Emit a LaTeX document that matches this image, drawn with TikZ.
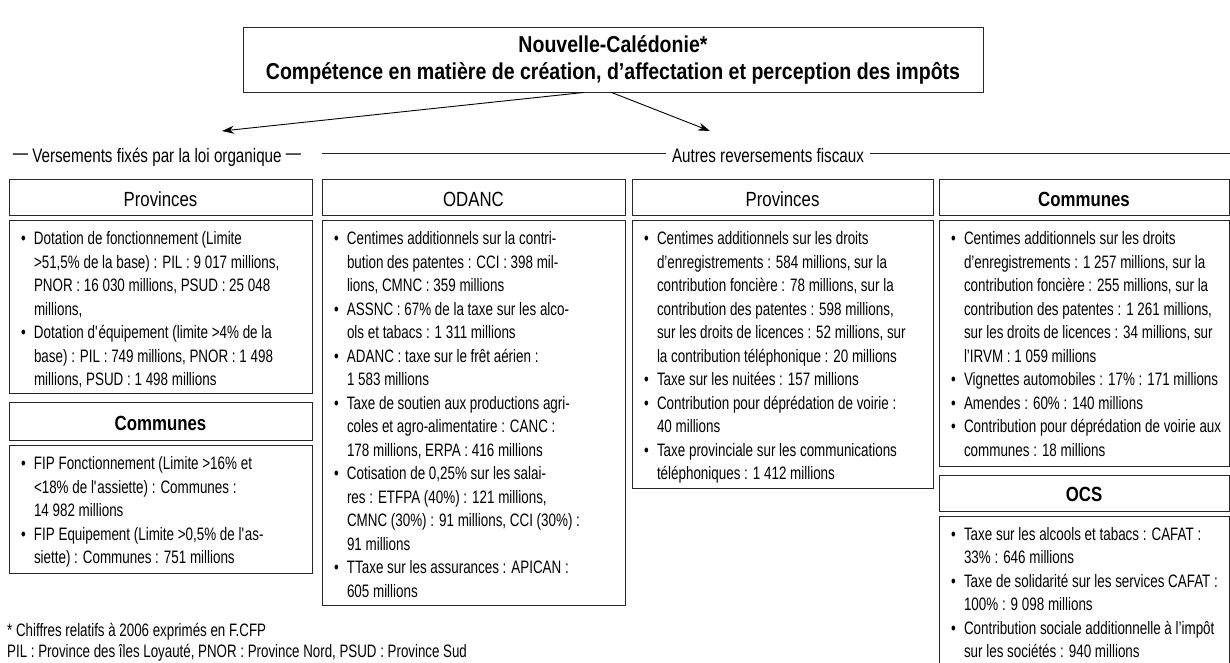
\documentclass[tikz,border=0pt]{standalone}
\usepackage{fontspec}
\setmainfont{Liberation Sans}
\newfontfamily\cfont{Liberation Sans}[FakeStretch=0.745]
\newfontfamily\ffont{Liberation Sans}[FakeStretch=0.74]
\newfontfamily\hfont{Liberation Sans}[FakeStretch=0.82]
\newfontfamily\sfont{Liberation Sans}[FakeStretch=0.78]
\newfontfamily\tfont{Liberation Sans}[FakeStretch=0.85]
\usetikzlibrary{arrows.meta}
\newlength\bw \setlength\bw{13pt}
\newcommand\bu{\makebox[\bw][l]{\textbullet}}
\newcommand\ci{\hspace*{\bw}}
\newcommand\rdash{\raisebox{3pt}{—}}
\colorlet{bord}{black!85}
\tikzset{
  boxc/.style={draw=bord, line width=0.9pt, anchor=north west, inner sep=0pt, outer sep=0pt},
  hdr/.style={draw=bord, line width=0.9pt, inner sep=0pt, outer sep=0pt, minimum height=36pt,
    font=\hfont\fontsize{20.5}{24}\selectfont, text height=17pt, text depth=0pt},
  hdrb/.style={hdr, font=\hfont\bfseries\fontsize{20.5}{24}\selectfont},
  ctext/.style={anchor=north west, align=left, inner sep=0pt, outer sep=0pt,
    font=\cfont\fontsize{18}{23.5}\selectfont},
  septext/.style={anchor=base, inner sep=6pt, font=\sfont\fontsize{19.5}{22}\selectfont},
  arr/.style={-{Stealth[length=12pt,width=8pt]}, line width=0.9pt, draw=black},
  sepline/.style={line width=0.8pt, draw=bord},
}
\begin{document}
\begin{tikzpicture}[x=1pt,y=-1pt]
\useasboundingbox (0,0) rectangle (1230,662);
\fill[white] (0,0) rectangle (1230,662);

% top box
\node[draw=bord, line width=0.9pt, minimum width=740pt, minimum height=65pt, inner sep=0pt,
  align=center, font=\tfont\bfseries\fontsize{23}{27}\selectfont] (nc) at (613,59.5)
  {Nouvelle-Calédonie*\\Compétence en matière de création, d’affectation et perception des impôts};

% arrows
\coordinate (la) at (222,131);
\coordinate (ra) at (710,131);
\draw[arr] ([xshift=-29pt]nc.south) -- (la);
\draw[arr] ([xshift=-1.5pt]nc.south) -- (ra);

% separators
\node[septext] (vers) at (157,162) {\rdash\ Versements fixés par la loi organique \rdash};
\node[septext] (autres) at (768,162) {Autres reversements fiscaux};
\coordinate (s1) at (322,153.5);
\coordinate (s2) at (1230,153.5);
\draw[sepline] (s1) -- (s1 -| autres.west);
\draw[sepline] (s2 -| autres.east) -- (s2);

% headers
\node[hdr, minimum width=303pt] (h1) at (160.5,197.5) {Provinces};
\node[hdr, minimum width=303pt] (h2) at (473.5,197.5) {ODANC};
\node[hdr, minimum width=301pt] (h3) at (782.5,197.5) {Provinces};
\node[hdrb, minimum width=290pt] (h4) at (1084,197.5) {Communes};
\node[hdrb, minimum width=303pt, minimum height=38pt] (h5) at (160.5,421.7) {Communes};
\node[hdrb, minimum width=290pt] (h6) at (1084,493) {OCS};

% content boxes
\node[boxc, minimum width=303pt, minimum height=173pt] (b1) at (9,220.5) {};
\node[boxc, minimum width=303pt, minimum height=128pt] (b5) at (9,445.7) {};
\node[boxc, minimum width=303pt, minimum height=384.5pt] (b2) at (322,220.5) {};
\node[boxc, minimum width=301pt, minimum height=268pt] (b3) at (632,220.5) {};
\node[boxc, minimum width=290pt, minimum height=246pt] (b4) at (939,220.5) {};
\node[boxc, minimum width=290pt, minimum height=160pt] (b6) at (939,516) {};

% content texts
\node[ctext] (t1) at ([xshift=12pt,yshift=-7.55pt]b1.north west) {\strut\bu Dotation de fonctionnement (Limite\\
\ci >51,5\% de la base) : PIL : 9 017 millions,\\
\ci PNOR : 16 030 millions, PSUD : 25 048\\
\ci millions,\\
\bu Dotation d\textquotesingle équipement (limite >4\% de la\\
\ci base) : PIL : 749 millions, PNOR : 1 498\\
\ci millions, PSUD : 1 498 millions};

\node[ctext] (t5) at ([xshift=12pt,yshift=-7.55pt]b5.north west) {\strut\bu FIP Fonctionnement (Limite >16\% et\\
\ci <18\% de l\textquotesingle assiette) : Communes :\\
\ci 14 982 millions\\
\bu FIP Equipement (Limite >0,5\% de l\textquotesingle as-\\
\ci siette) : Communes : 751 millions};

\node[ctext] (t2) at ([xshift=12pt,yshift=-7.55pt]b2.north west) {\strut\bu Centimes additionnels sur la contri-\\
\ci bution des patentes : CCI : 398 mil-\\
\ci lions, CMNC : 359 millions\\
\bu ASSNC : 67\% de la taxe sur les alco-\\
\ci ols et tabacs : 1 311 millions\\
\bu ADANC : taxe sur le frêt aérien :\\
\ci 1 583 millions\\
\bu Taxe de soutien aux productions agri-\\
\ci coles et agro-alimentatire : CANC :\\
\ci 178 millions, ERPA : 416 millions\\
\bu Cotisation de 0,25\% sur les salai-\\
\ci res : ETFPA (40\%) : 121 millions,\\
\ci CMNC (30\%) : 91 millions, CCI (30\%) :\\
\ci 91 millions\\
\bu TTaxe sur les assurances : APICAN :\\
\ci 605 millions};

\node[ctext] (t3) at ([xshift=12pt,yshift=-7.55pt]b3.north west) {\strut\bu Centimes additionnels sur les droits\\
\ci d’enregistrements : 584 millions, sur la\\
\ci contribution foncière : 78 millions, sur la\\
\ci contribution des patentes : 598 millions,\\
\ci sur les droits de licences : 52 millions, sur\\
\ci la contribution téléphonique : 20 millions\\
\bu Taxe sur les nuitées : 157 millions\\
\bu Contribution pour déprédation de voirie :\\
\ci 40 millions\\
\bu Taxe provinciale sur les communications\\
\ci téléphoniques : 1 412 millions};

\node[ctext] (t4) at ([xshift=12pt,yshift=-7.55pt]b4.north west) {\strut\bu Centimes additionnels sur les droits\\
\ci d’enregistrements : 1 257 millions, sur la\\
\ci contribution foncière : 255 millions, sur la\\
\ci contribution des patentes : 1 261 millions,\\
\ci sur les droits de licences : 34 millions, sur\\
\ci l’IRVM : 1 059 millions\\
\bu Vignettes automobiles : 17\% : 171 millions\\
\bu Amendes : 60\% : 140 millions\\
\bu Contribution pour déprédation de voirie aux\\
\ci communes : 18 millions};

\node[ctext] (t6) at ([xshift=12pt,yshift=-7.55pt]b6.north west) {\strut\bu Taxe sur les alcools et tabacs : CAFAT :\\
\ci 33\% : 646 millions\\
\bu Taxe de solidarité sur les services CAFAT :\\
\ci 100\% : 9 098 millions\\
\bu Contribution sociale additionnelle à l’impôt\\
\ci sur les sociétés : 940 millions};

% footnote
\node[anchor=north west, align=left, inner sep=0pt, font=\ffont\fontsize{18}{21}\selectfont] (fn) at (7,621.3)
{\strut * Chiffres relatifs à 2006 exprimés en F.CFP\\
PIL : Province des îles Loyauté, PNOR : Province Nord, PSUD : Province Sud};
\end{tikzpicture}
\end{document}
